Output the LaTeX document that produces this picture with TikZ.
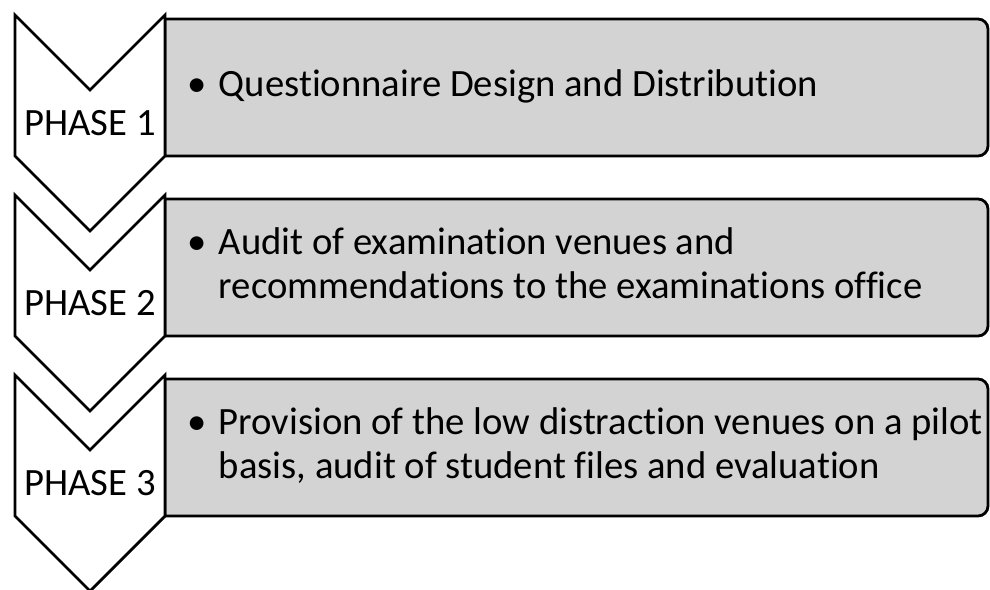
\documentclass[tikz,border=0pt]{standalone}
\usepackage{fontspec}
\setmainfont{Carlito}[Ligatures=NoCommon]
\definecolor{boxgray}{RGB}{211,211,211}
\begin{document}
\begin{tikzpicture}[x=0.02cm, y=0.02cm,
    chevron/.style={draw, line width=1.6pt, fill=white, line join=miter},
    stepbox/.style={draw, line width=1.6pt, fill=boxgray},
    phase/.style={inner sep=0pt, font=\fontsize{22}{26}\selectfont},
    item/.style={anchor=west, inner sep=0pt, font=\fontsize{22}{25.5}\selectfont}]
  \useasboundingbox (0,0) rectangle (990,-589);
  % boxes behind the chevrons
  \draw[stepbox] (165,-19) -- (978,-19) arc[start angle=90, end angle=0, radius=10]
    -- (988,-146) arc[start angle=0, end angle=-90, radius=10] -- (165,-156) -- cycle;
  \draw[stepbox] (165,-199) -- (978,-199) arc[start angle=90, end angle=0, radius=10]
    -- (988,-326) arc[start angle=0, end angle=-90, radius=10] -- (165,-336) -- cycle;
  \draw[stepbox] (165,-379) -- (978,-379) arc[start angle=90, end angle=0, radius=10]
    -- (988,-506) arc[start angle=0, end angle=-90, radius=10] -- (165,-516) -- cycle;

  % chevrons
  \draw[chevron] (15,-15) -- (90,-90) -- (165,-15) -- (165,-156) -- (90,-231) -- (15,-156) -- cycle;
  \draw[chevron] (15,-195) -- (90,-270) -- (165,-195) -- (165,-336) -- (90,-411) -- (15,-336) -- cycle;
  \draw[chevron] (15,-375) -- (90,-450) -- (165,-375) -- (165,-516) -- (90,-591) -- (15,-516) -- cycle;

  \node[phase] (p1) at (90,-123) {PHASE 1};
  \node[phase] (p2) at (90,-303) {PHASE 2};
  \node[phase] (p3) at (90,-483) {PHASE 3};

  \node[item] (t1) at (187,-87.5) {\begin{tabular}{@{}l@{\hspace{7pt}}l@{}}
    \textbullet & Questionnaire Design and Distribution\end{tabular}};
  \node[item] (t2) at (187,-267.5) {\begin{tabular}{@{}l@{\hspace{7pt}}l@{}}
    \textbullet & Audit of examination venues and\\
    & recommendations to the examinations office\end{tabular}};
  \node[item] (t3) at (187,-447.5) {\begin{tabular}{@{}l@{\hspace{7pt}}l@{}}
    \textbullet & Provision of the low distraction venues on a pilot\\
    & basis, audit of student files and evaluation\end{tabular}};
\end{tikzpicture}
\end{document}
